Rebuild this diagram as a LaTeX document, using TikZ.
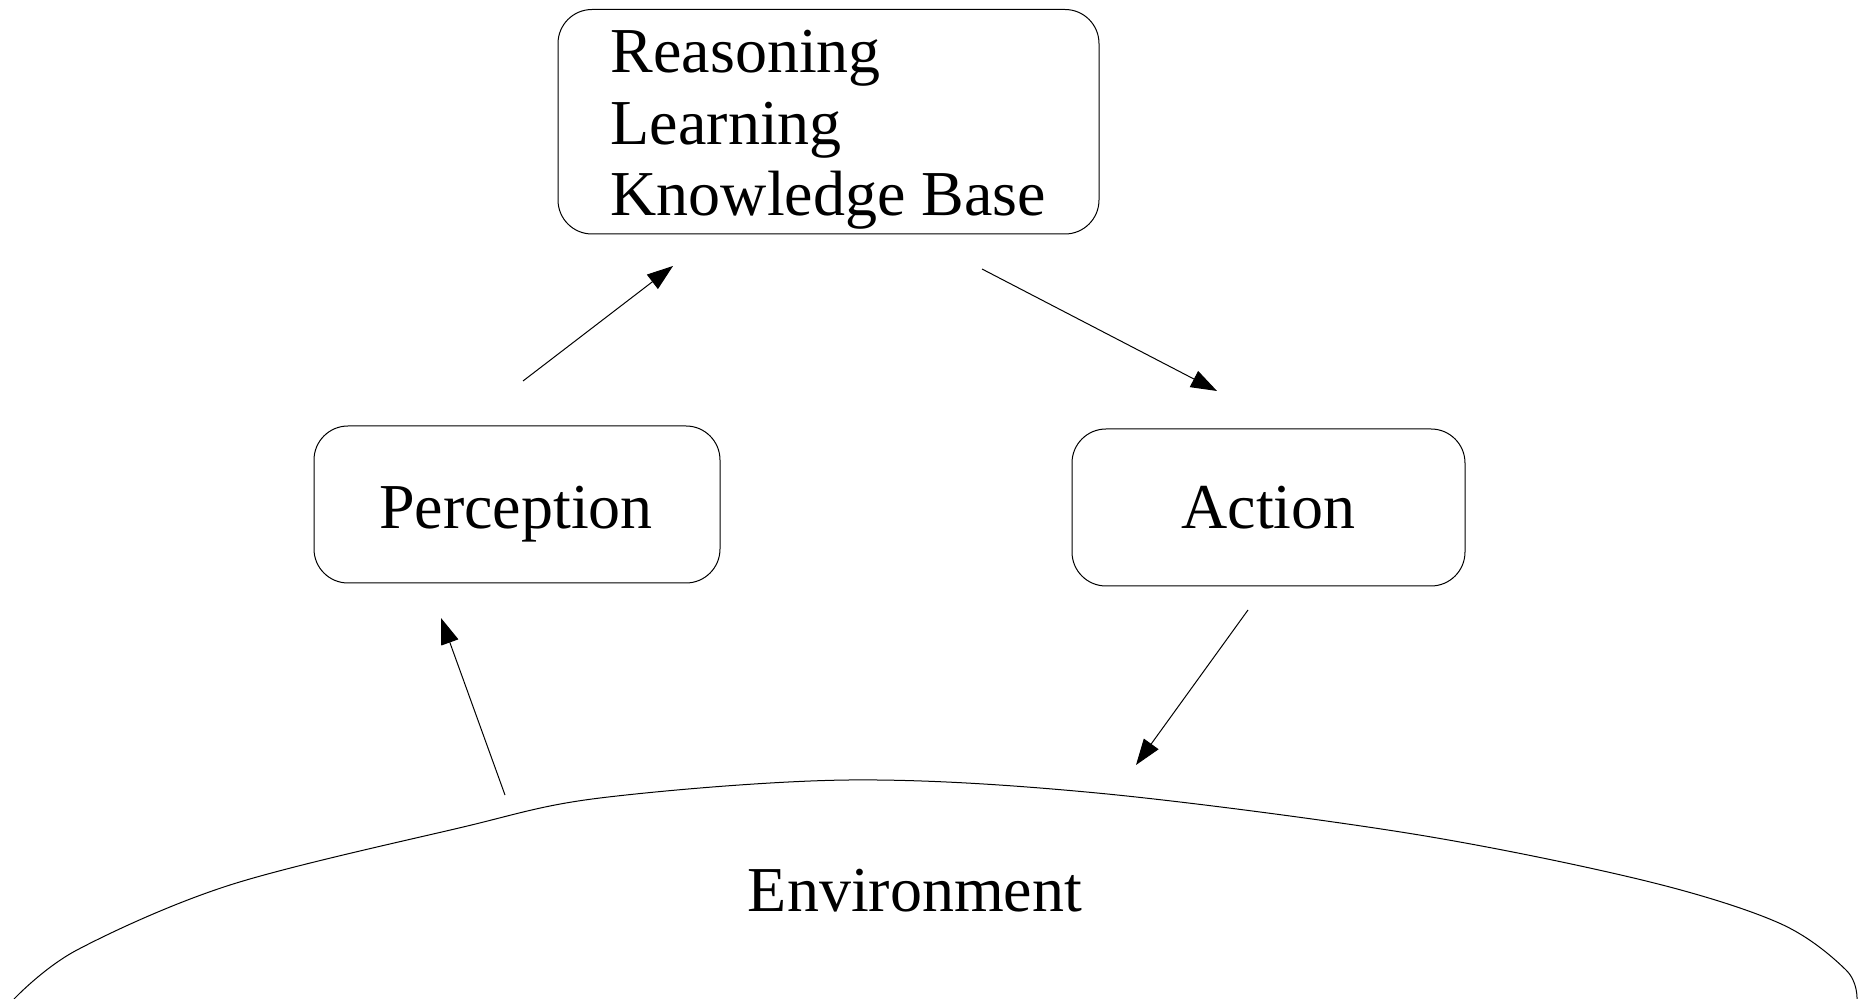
\documentclass[tikz,border=0pt]{standalone}
\usepackage{fontspec}
\setmainfont{Liberation Serif}
\usetikzlibrary{arrows.meta}
\begin{document}
\begin{tikzpicture}[x=0.5pt,y=-0.5pt,
  line width=0.5pt,
  every node/.style={font=\fontsize{32}{35.7}\selectfont},
  roundbox/.style={draw,rounded corners=17pt,inner sep=0pt},
  flow/.style={-{Triangle[length=13pt,width=9pt]}}]
\useasboundingbox (0,0) rectangle (1865,999);

% boxes
\node[roundbox,minimum width=270.5pt,minimum height=112.25pt]
  (think) at (828.5,121.75) {};
\node[align=left,inner sep=0pt] (thinktext) at (828.5,130) {Reasoning\\Learning\\Knowledge Base};
\node[roundbox,minimum width=203pt,minimum height=78.5pt]
  (perc) at (517,504.5) {};
\node[inner sep=0pt] (perctext) at (516,514) {Perception};
\node[roundbox,minimum width=196.5pt,minimum height=78.5pt]
  (act) at (1268.5,507.5) {Action};

% environment outline
\draw plot[smooth,tension=0.55] coordinates {
  (14,999) (77,950) (230,885) (459,828) (600,798) (849,780)
  (1097,793) (1407,833) (1642,880) (1779,923) (1846,970) (1857,999)};
\node (env) at (915,891) {Environment};

% arrow ends
\coordinate (perc-out) at (523,381);
\coordinate (think-in) at (673,266);
\coordinate (think-out) at (982,269);
\coordinate (act-in) at (1217,391);
\coordinate (act-out) at (1248,610);
\coordinate (env-in) at (1136,765);
\coordinate (env-out) at (505,795);
\coordinate (perc-in) at (441,618);

\draw[flow] (perc-out) -- (think-in);
\draw[flow] (think-out) -- (act-in);
\draw[flow] (act-out) -- (env-in);
\draw[flow] (env-out) -- (perc-in);
\end{tikzpicture}
\end{document}
